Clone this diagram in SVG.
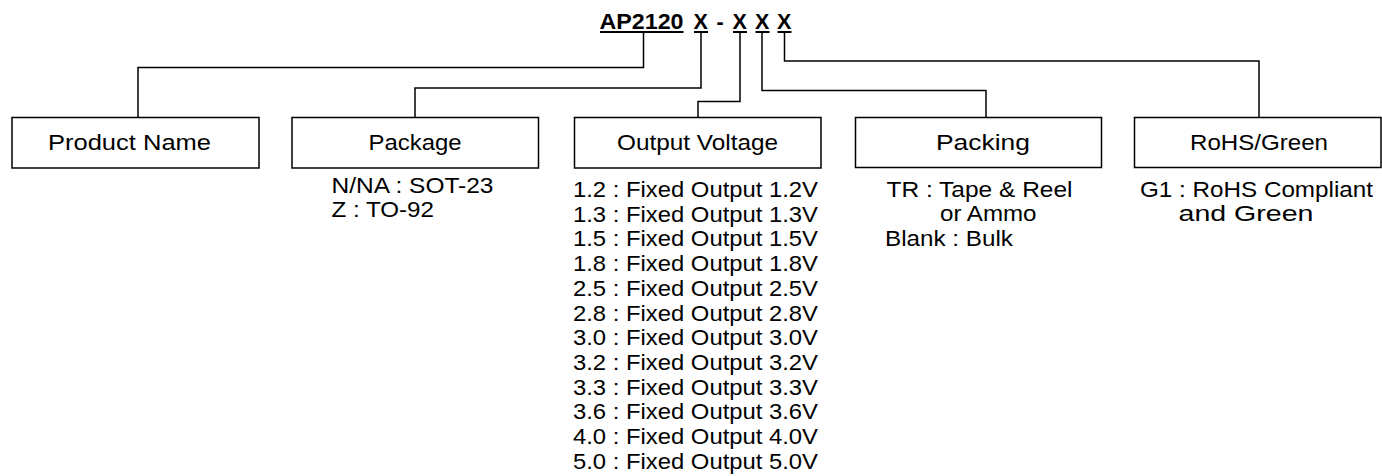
<svg xmlns="http://www.w3.org/2000/svg" width="1382" height="476" viewBox="0 0 1382 476">
<style>
.t{font-family:"Liberation Sans",Arial,sans-serif;font-size:22.5px;fill:#000}
.b{font-family:"Liberation Sans",Arial,sans-serif;font-size:21.5px;font-weight:bold;fill:#000}
.box{fill:#fff;stroke:#000;stroke-width:1.5}
.ln{fill:none;stroke:#000;stroke-width:1.5}
</style>
<rect width="1382" height="476" fill="#fff"/>
<g id="title">
<text class="b" x="599.5" y="29" textLength="84" lengthAdjust="spacingAndGlyphs">AP2120</text>
<text class="b" x="693.5" y="29">X</text>
<text class="b" x="716.5" y="29">-</text>
<text class="b" x="732.5" y="29">X</text>
<text class="b" x="755" y="29">X</text>
<text class="b" x="777" y="29">X</text>
<rect x="600" y="31" width="83.5" height="2"/>
<rect x="694" y="31" width="14" height="2"/>
<rect x="733" y="31" width="14" height="2"/>
<rect x="755.5" y="31" width="14" height="2"/>
<rect x="777.5" y="31" width="14" height="2"/>
</g>
<g id="connectors">
<path class="ln" d="M643.5 33V67.5H138V117.5"/>
<path class="ln" d="M701 33V88H415V117.5"/>
<path class="ln" d="M740 33V101.5H698V117.5"/>
<path class="ln" d="M762 33V90.5H986V117.5"/>
<path class="ln" d="M784.5 33V61H1259V117.5"/>
</g>
<g id="product-name">
<rect class="box" x="12" y="117.5" width="247" height="50.5"/>
<text class="t" x="48" y="150" textLength="163" lengthAdjust="spacingAndGlyphs">Product Name</text>
</g>
<g id="package">
<rect class="box" x="292" y="117.5" width="246.5" height="50.5"/>
<text class="t" x="368.5" y="150" textLength="93" lengthAdjust="spacingAndGlyphs">Package</text>
<text class="t" x="331.5" y="193" textLength="162" lengthAdjust="spacingAndGlyphs">N/NA : SOT-23</text>
<text class="t" x="331.5" y="217" textLength="102.5" lengthAdjust="spacingAndGlyphs">Z : TO-92</text>
</g>
<g id="output-voltage">
<rect class="box" x="574.5" y="117.5" width="246.5" height="50.5"/>
<text class="t" x="617" y="150" textLength="161" lengthAdjust="spacingAndGlyphs">Output Voltage</text>
<text class="t" x="573" y="197" textLength="245" lengthAdjust="spacingAndGlyphs">1.2 : Fixed Output 1.2V</text>
<text class="t" x="573" y="221.7" textLength="245" lengthAdjust="spacingAndGlyphs">1.3 : Fixed Output 1.3V</text>
<text class="t" x="573" y="246.4" textLength="245" lengthAdjust="spacingAndGlyphs">1.5 : Fixed Output 1.5V</text>
<text class="t" x="573" y="271.1" textLength="245" lengthAdjust="spacingAndGlyphs">1.8 : Fixed Output 1.8V</text>
<text class="t" x="573" y="295.8" textLength="245" lengthAdjust="spacingAndGlyphs">2.5 : Fixed Output 2.5V</text>
<text class="t" x="573" y="320.5" textLength="245" lengthAdjust="spacingAndGlyphs">2.8 : Fixed Output 2.8V</text>
<text class="t" x="573" y="345.2" textLength="245" lengthAdjust="spacingAndGlyphs">3.0 : Fixed Output 3.0V</text>
<text class="t" x="573" y="369.9" textLength="245" lengthAdjust="spacingAndGlyphs">3.2 : Fixed Output 3.2V</text>
<text class="t" x="573" y="394.6" textLength="245" lengthAdjust="spacingAndGlyphs">3.3 : Fixed Output 3.3V</text>
<text class="t" x="573" y="419.3" textLength="245" lengthAdjust="spacingAndGlyphs">3.6 : Fixed Output 3.6V</text>
<text class="t" x="573" y="444" textLength="245" lengthAdjust="spacingAndGlyphs">4.0 : Fixed Output 4.0V</text>
<text class="t" x="573" y="468.7" textLength="245" lengthAdjust="spacingAndGlyphs">5.0 : Fixed Output 5.0V</text>
</g>
<g id="packing">
<rect class="box" x="855.5" y="117.5" width="246" height="50"/>
<text class="t" x="936" y="150" textLength="94" lengthAdjust="spacingAndGlyphs">Packing</text>
<text class="t" x="886.5" y="196.5" textLength="186" lengthAdjust="spacingAndGlyphs">TR : Tape &amp; Reel</text>
<text class="t" x="940" y="221" textLength="96.5" lengthAdjust="spacingAndGlyphs">or Ammo</text>
<text class="t" x="885" y="245.5" textLength="128" lengthAdjust="spacingAndGlyphs">Blank : Bulk</text>
</g>
<g id="rohs-green">
<rect class="box" x="1134.5" y="117.5" width="246.5" height="50"/>
<text class="t" x="1190" y="150" textLength="138" lengthAdjust="spacingAndGlyphs">RoHS/Green</text>
<text class="t" x="1140" y="196.5" textLength="233" lengthAdjust="spacingAndGlyphs">G1 : RoHS Compliant</text>
<text class="t" x="1178.5" y="221" textLength="135" lengthAdjust="spacingAndGlyphs">and Green</text>
</g>
</svg>
